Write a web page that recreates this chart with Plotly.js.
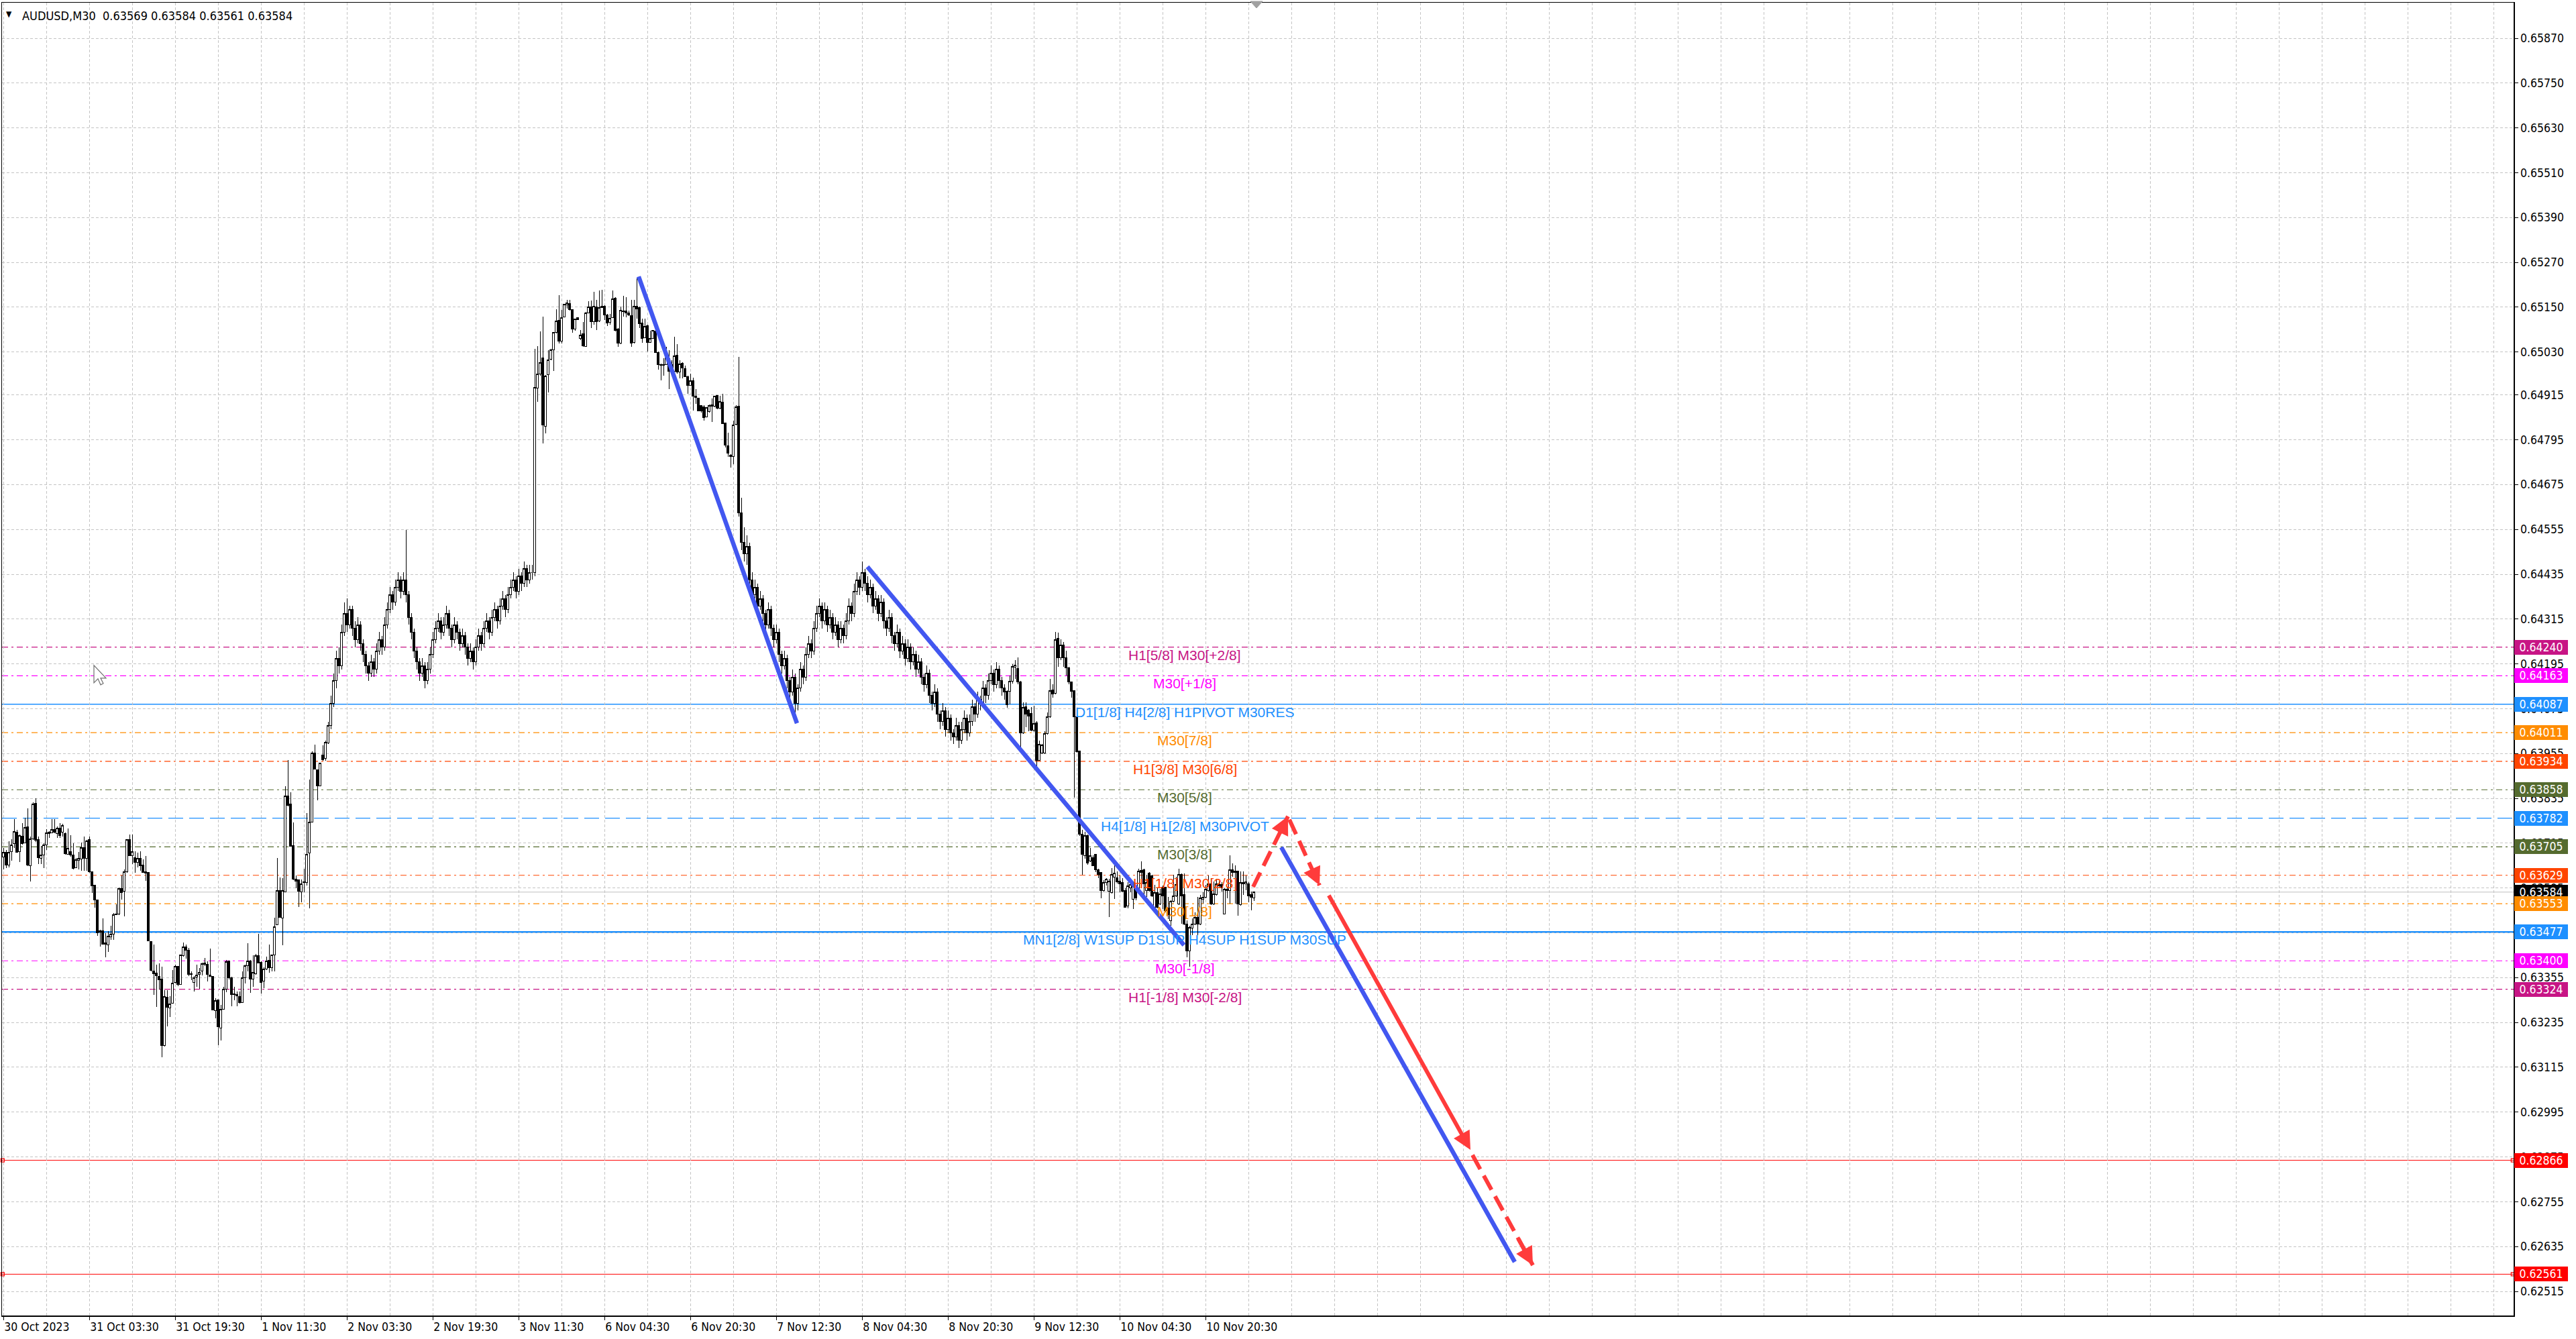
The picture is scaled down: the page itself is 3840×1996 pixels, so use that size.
<!DOCTYPE html>
<html><head><meta charset="utf-8">
<script src="https://cdn.plot.ly/plotly-3.0.1.min.js"></script>
<style>html,body{margin:0;padding:0;background:#fff}#chart{width:3840px;height:1996px}#chart .boxlayer path{shape-rendering:crispEdges}</style>
</head><body><div id="chart"></div>
<script>
const symbolName = 'AUDUSD,M30';
const openP = [0.63678,0.63691,0.63657,0.63693,0.63714,0.63745,0.63693,0.63734,0.63715,0.63758,
0.63655,0.63726,0.63821,0.63724,0.63675,0.63684,0.63711,0.63741,0.63743,0.63751,
0.63741,0.63756,0.63744,0.63740,0.63685,0.63693,0.63683,0.63649,0.63669,0.63673,
0.63704,0.63675,0.63724,0.63638,0.63602,0.63563,0.63480,0.63480,0.63448,0.63443,
0.63465,0.63472,0.63524,0.63525,0.63593,0.63587,0.63638,0.63725,0.63681,0.63676,
0.63663,0.63675,0.63656,0.63635,0.63637,0.63452,0.63373,0.63367,0.63359,0.63351,
0.63174,0.63302,0.63273,0.63286,0.63342,0.63385,0.63336,0.63414,0.63437,0.63429,
0.63366,0.63343,0.63357,0.63363,0.63372,0.63394,0.63391,0.63361,0.63359,0.63267,
0.63295,0.63220,0.63270,0.63325,0.63399,0.63355,0.63312,0.63309,0.63305,0.63289,
0.63354,0.63387,0.63399,0.63351,0.63366,0.63414,0.63396,0.63345,0.63378,0.63402,
0.63381,0.63415,0.63497,0.63588,0.63515,0.63585,0.63842,0.63819,0.63709,0.63618,
0.63617,0.63585,0.63609,0.63609,0.63689,0.63771,0.63956,0.63912,0.63869,0.63951,
0.63942,0.63984,0.64030,0.64090,0.64150,0.64210,0.64190,0.64280,0.64330,0.64300,
0.64340,0.64290,0.64260,0.64300,0.64250,0.64220,0.64190,0.64170,0.64200,0.64180,
0.64230,0.64260,0.64240,0.64300,0.64340,0.64380,0.64360,0.64400,0.64420,0.64390,
0.64420,0.64380,0.64320,0.64280,0.64230,0.64200,0.64170,0.64190,0.64150,0.64180,
0.64220,0.64260,0.64290,0.64310,0.64280,0.64300,0.64330,0.64290,0.64260,0.64300,
0.64280,0.64250,0.64270,0.64240,0.64210,0.64230,0.64200,0.64240,0.64270,0.64250,
0.64290,0.64310,0.64280,0.64320,0.64340,0.64310,0.64350,0.64370,0.64340,0.64380,
0.64400,0.64420,0.64390,0.64430,0.64410,0.64450,0.64420,0.64440,0.64440,0.64933,
0.64972,0.65014,0.64831,0.64969,0.65010,0.65035,0.65083,0.65115,0.65059,0.65123,
0.65157,0.65160,0.65143,0.65091,0.65122,0.65066,0.65079,0.65044,0.65134,0.65151,
0.65111,0.65151,0.65113,0.65149,0.65153,0.65129,0.65109,0.65122,0.65174,0.65092,
0.65053,0.65140,0.65140,0.65135,0.65128,0.65055,0.65152,0.65149,0.65108,0.65068,
0.65101,0.65056,0.65067,0.65086,0.65029,0.64997,0.64996,0.64997,0.65013,0.64996,
0.64978,0.65021,0.64976,0.65000,0.64985,0.64964,0.64941,0.64953,0.64911,0.64906,
0.64886,0.64884,0.64857,0.64870,0.64888,0.64885,0.64913,0.64879,0.64895,0.64840,
0.64779,0.64753,0.64750,0.64836,0.64885,0.64600,0.64520,0.64490,0.64510,0.64420,
0.64380,0.64400,0.64350,0.64370,0.64330,0.64300,0.64340,0.64290,0.64260,0.64280,
0.64220,0.64190,0.64210,0.64150,0.64120,0.64160,0.64090,0.64130,0.64180,0.64160,
0.64220,0.64250,0.64230,0.64290,0.64330,0.64350,0.64310,0.64340,0.64300,0.64320,
0.64280,0.64300,0.64260,0.64290,0.64270,0.64310,0.64350,0.64330,0.64390,0.64420,
0.64400,0.64440,0.64410,0.64380,0.64400,0.64350,0.64370,0.64330,0.64360,0.64310,
0.64290,0.64320,0.64270,0.64250,0.64280,0.64230,0.64250,0.64210,0.64240,0.64200,
0.64220,0.64180,0.64200,0.64160,0.64140,0.64170,0.64110,0.64090,0.64120,0.64060,
0.64040,0.64070,0.64020,0.64050,0.64010,0.64000,0.64030,0.63990,0.64020,0.64050,
0.64010,0.64040,0.64080,0.64060,0.64100,0.64090,0.64130,0.64110,0.64150,0.64170,
0.64140,0.64180,0.64150,0.64130,0.64122,0.64122,0.64149,0.64187,0.64182,0.64147,
0.64011,0.64080,0.64071,0.64062,0.64017,0.64038,0.63936,0.63957,0.63957,0.64008,
0.64053,0.64125,0.64116,0.64263,0.64212,0.64245,0.64212,0.64185,0.64146,0.64123,
0.64053,0.63961,0.63739,0.63682,0.63736,0.63667,0.63676,0.63685,0.63643,0.63637,
0.63589,0.63610,0.63586,0.63583,0.63625,0.63622,0.63613,0.63610,0.63589,0.63547,
0.63595,0.63565,0.63601,0.63586,0.63642,0.63643,0.63589,0.63634,0.63628,0.63544,
0.63583,0.63553,0.63598,0.63598,0.63541,0.63508,0.63559,0.63574,0.63553,0.63631,
0.63577,0.63499,0.63427,0.63487,0.63499,0.63517,0.63499,0.63564,0.63571,0.63589,
0.63607,0.63553,0.63577,0.63607,0.63604,0.63526,0.63589,0.63589,0.63644,0.63637,
0.63640,0.63550,0.63610,0.63607,0.63607,0.63577,0.63569];
const highP = [0.63702,0.63696,0.63720,0.63726,0.63780,0.63750,0.63738,0.63769,0.63783,0.63809,
0.63732,0.63825,0.63835,0.63732,0.63708,0.63714,0.63753,0.63747,0.63780,0.63780,
0.63759,0.63768,0.63767,0.63744,0.63754,0.63737,0.63715,0.63675,0.63691,0.63717,
0.63732,0.63723,0.63732,0.63639,0.63603,0.63564,0.63483,0.63513,0.63474,0.63479,
0.63493,0.63528,0.63552,0.63597,0.63629,0.63645,0.63726,0.63738,0.63738,0.63693,
0.63690,0.63693,0.63672,0.63681,0.63638,0.63453,0.63444,0.63390,0.63393,0.63385,
0.63321,0.63321,0.63306,0.63375,0.63390,0.63387,0.63417,0.63449,0.63444,0.63435,
0.63372,0.63360,0.63390,0.63381,0.63396,0.63408,0.63399,0.63432,0.63360,0.63300,
0.63297,0.63282,0.63331,0.63403,0.63400,0.63357,0.63331,0.63318,0.63318,0.63372,
0.63390,0.63447,0.63402,0.63414,0.63418,0.63473,0.63399,0.63383,0.63411,0.63444,
0.63417,0.63516,0.63675,0.63624,0.63621,0.63867,0.63938,0.63852,0.63771,0.63629,
0.63618,0.63618,0.63647,0.63796,0.63886,0.63960,0.63978,0.63913,0.63930,0.63977,
0.63990,0.64040,0.64110,0.64170,0.64230,0.64240,0.64300,0.64360,0.64370,0.64350,
0.64350,0.64310,0.64320,0.64310,0.64260,0.64230,0.64200,0.64220,0.64210,0.64250,
0.64280,0.64270,0.64320,0.64360,0.64400,0.64390,0.64420,0.64440,0.64430,0.64440,
0.64554,0.64390,0.64330,0.64290,0.64240,0.64210,0.64210,0.64200,0.64200,0.64240,
0.64280,0.64310,0.64330,0.64320,0.64320,0.64350,0.64340,0.64300,0.64320,0.64310,
0.64290,0.64290,0.64280,0.64250,0.64250,0.64240,0.64260,0.64290,0.64280,0.64310,
0.64330,0.64320,0.64340,0.64360,0.64350,0.64370,0.64390,0.64380,0.64400,0.64420,
0.64440,0.64430,0.64450,0.64440,0.64470,0.64460,0.64460,0.64460,0.65039,0.65045,
0.65086,0.65125,0.64969,0.65035,0.65038,0.65083,0.65144,0.65182,0.65143,0.65159,
0.65170,0.65170,0.65143,0.65119,0.65123,0.65089,0.65110,0.65137,0.65166,0.65167,
0.65191,0.65170,0.65195,0.65197,0.65155,0.65131,0.65131,0.65194,0.65176,0.65095,
0.65152,0.65181,0.65176,0.65140,0.65170,0.65170,0.65227,0.65152,0.65119,0.65119,
0.65104,0.65087,0.65089,0.65087,0.65032,0.64999,0.65013,0.65044,0.65035,0.65008,
0.65071,0.65051,0.65008,0.65002,0.64993,0.64967,0.64972,0.64961,0.64930,0.64908,
0.64888,0.64888,0.64883,0.64889,0.64906,0.64913,0.64915,0.64912,0.64918,0.64841,
0.64814,0.64756,0.64847,0.64888,0.65017,0.64640,0.64560,0.64540,0.64520,0.64440,
0.64420,0.64410,0.64390,0.64380,0.64340,0.64360,0.64350,0.64300,0.64300,0.64290,
0.64230,0.64230,0.64220,0.64160,0.64180,0.64170,0.64140,0.64200,0.64190,0.64240,
0.64270,0.64260,0.64310,0.64350,0.64370,0.64360,0.64360,0.64350,0.64340,0.64330,
0.64320,0.64310,0.64310,0.64300,0.64330,0.64370,0.64360,0.64410,0.64440,0.64430,
0.64470,0.64450,0.64430,0.64420,0.64410,0.64390,0.64380,0.64380,0.64370,0.64320,
0.64340,0.64330,0.64280,0.64300,0.64290,0.64270,0.64260,0.64260,0.64250,0.64240,
0.64230,0.64220,0.64210,0.64170,0.64190,0.64180,0.64120,0.64140,0.64130,0.64070,
0.64090,0.64080,0.64070,0.64060,0.64020,0.64050,0.64040,0.64040,0.64070,0.64060,
0.64060,0.64100,0.64090,0.64120,0.64110,0.64150,0.64140,0.64170,0.64190,0.64180,
0.64200,0.64190,0.64160,0.64140,0.64125,0.64164,0.64194,0.64206,0.64212,0.64149,
0.64092,0.64092,0.64074,0.64080,0.64083,0.64041,0.63990,0.63981,0.64014,0.64065,
0.64155,0.64140,0.64281,0.64278,0.64260,0.64254,0.64231,0.64188,0.64147,0.64125,
0.64059,0.63962,0.63751,0.63745,0.63739,0.63703,0.63682,0.63685,0.63646,0.63638,
0.63616,0.63622,0.63619,0.63649,0.63655,0.63640,0.63628,0.63622,0.63595,0.63610,
0.63616,0.63613,0.63601,0.63646,0.63667,0.63646,0.63631,0.63637,0.63631,0.63604,
0.63595,0.63592,0.63601,0.63598,0.63571,0.63562,0.63631,0.63625,0.63646,0.63634,
0.63634,0.63508,0.63493,0.63514,0.63529,0.63571,0.63577,0.63583,0.63604,0.63628,
0.63622,0.63613,0.63619,0.63613,0.63610,0.63595,0.63598,0.63682,0.63661,0.63655,
0.63642,0.63640,0.63640,0.63628,0.63610,0.63586,0.63584];
const lowP = [0.63645,0.63648,0.63651,0.63669,0.63702,0.63690,0.63664,0.63711,0.63714,0.63654,
0.63612,0.63723,0.63719,0.63660,0.63659,0.63648,0.63696,0.63729,0.63743,0.63741,
0.63729,0.63729,0.63732,0.63684,0.63684,0.63678,0.63645,0.63648,0.63645,0.63642,
0.63642,0.63642,0.63636,0.63582,0.63543,0.63467,0.63438,0.63444,0.63410,0.63423,
0.63456,0.63456,0.63522,0.63522,0.63564,0.63519,0.63636,0.63680,0.63660,0.63636,
0.63651,0.63642,0.63636,0.63615,0.63452,0.63372,0.63309,0.63276,0.63324,0.63141,
0.63171,0.63225,0.63249,0.63285,0.63339,0.63333,0.63335,0.63411,0.63405,0.63360,
0.63348,0.63318,0.63330,0.63325,0.63361,0.63387,0.63345,0.63357,0.63267,0.63246,
0.63175,0.63187,0.63269,0.63316,0.63351,0.63279,0.63294,0.63279,0.63285,0.63288,
0.63339,0.63372,0.63315,0.63330,0.63363,0.63393,0.63313,0.63327,0.63375,0.63369,
0.63372,0.63372,0.63495,0.63515,0.63441,0.63583,0.63813,0.63705,0.63616,0.63594,
0.63545,0.63557,0.63583,0.63602,0.63540,0.63770,0.63912,0.63829,0.63867,0.63936,
0.63936,0.63980,0.64020,0.64080,0.64130,0.64170,0.64180,0.64270,0.64280,0.64290,
0.64270,0.64240,0.64250,0.64230,0.64200,0.64170,0.64150,0.64160,0.64160,0.64170,
0.64220,0.64220,0.64230,0.64290,0.64330,0.64340,0.64350,0.64390,0.64370,0.64380,
0.64360,0.64300,0.64260,0.64210,0.64180,0.64150,0.64160,0.64130,0.64140,0.64170,
0.64210,0.64250,0.64280,0.64260,0.64270,0.64290,0.64270,0.64240,0.64250,0.64260,
0.64230,0.64240,0.64220,0.64190,0.64200,0.64180,0.64190,0.64230,0.64230,0.64240,
0.64280,0.64260,0.64270,0.64310,0.64290,0.64300,0.64340,0.64320,0.64330,0.64370,
0.64390,0.64370,0.64380,0.64390,0.64400,0.64400,0.64410,0.64420,0.64430,0.64897,
0.64966,0.64786,0.64813,0.64921,0.65008,0.64979,0.65080,0.65053,0.65053,0.65122,
0.65146,0.65141,0.65082,0.65087,0.65115,0.65062,0.65043,0.65044,0.65133,0.65095,
0.65103,0.65089,0.65110,0.65148,0.65116,0.65099,0.65104,0.65121,0.65086,0.65044,
0.65051,0.65125,0.65123,0.65127,0.65044,0.65053,0.65119,0.65095,0.65055,0.65067,
0.65031,0.65055,0.65066,0.65027,0.64983,0.64954,0.64967,0.64996,0.64930,0.64966,
0.64975,0.64972,0.64959,0.64960,0.64963,0.64918,0.64939,0.64873,0.64891,0.64871,
0.64867,0.64846,0.64855,0.64867,0.64843,0.64883,0.64877,0.64877,0.64838,0.64774,
0.64750,0.64720,0.64730,0.64834,0.64590,0.64500,0.64470,0.64460,0.64400,0.64360,
0.64370,0.64330,0.64340,0.64310,0.64280,0.64290,0.64270,0.64240,0.64250,0.64200,
0.64170,0.64180,0.64130,0.64100,0.64110,0.64060,0.64070,0.64120,0.64140,0.64150,
0.64210,0.64210,0.64220,0.64280,0.64320,0.64290,0.64300,0.64280,0.64290,0.64260,
0.64270,0.64240,0.64250,0.64250,0.64260,0.64300,0.64310,0.64320,0.64380,0.64380,
0.64390,0.64390,0.64360,0.64370,0.64330,0.64340,0.64310,0.64320,0.64290,0.64270,
0.64280,0.64250,0.64230,0.64240,0.64210,0.64220,0.64190,0.64200,0.64180,0.64190,
0.64160,0.64170,0.64140,0.64120,0.64130,0.64090,0.64070,0.64080,0.64040,0.64020,
0.64030,0.64000,0.64010,0.63990,0.63980,0.63990,0.63970,0.63980,0.64010,0.63990,
0.64000,0.64030,0.64040,0.64050,0.64070,0.64080,0.64090,0.64100,0.64140,0.64120,
0.64130,0.64130,0.64110,0.64100,0.64077,0.64086,0.64143,0.64155,0.64140,0.63957,
0.64008,0.64026,0.64014,0.64014,0.64013,0.63921,0.63935,0.63954,0.63954,0.64005,
0.64050,0.64104,0.64113,0.64188,0.64206,0.64188,0.64164,0.64140,0.64104,0.63837,
0.63957,0.63735,0.63631,0.63673,0.63658,0.63664,0.63654,0.63637,0.63622,0.63568,
0.63586,0.63601,0.63517,0.63580,0.63565,0.63607,0.63583,0.63583,0.63542,0.63541,
0.63583,0.63538,0.63562,0.63583,0.63616,0.63577,0.63571,0.63586,0.63571,0.63541,
0.63541,0.63550,0.63538,0.63529,0.63511,0.63493,0.63556,0.63571,0.63550,0.63499,
0.63496,0.63409,0.63385,0.63469,0.63496,0.63469,0.63496,0.63553,0.63568,0.63586,
0.63550,0.63550,0.63574,0.63595,0.63586,0.63526,0.63568,0.63553,0.63625,0.63553,
0.63520,0.63547,0.63577,0.63589,0.63556,0.63535,0.63561];
const closeP = [0.63691,0.63657,0.63691,0.63711,0.63747,0.63691,0.63735,0.63714,0.63757,0.63657,
0.63727,0.63819,0.63722,0.63677,0.63683,0.63711,0.63742,0.63744,0.63751,0.63744,
0.63756,0.63735,0.63762,0.63687,0.63701,0.63683,0.63648,0.63670,0.63675,0.63703,
0.63675,0.63721,0.63638,0.63600,0.63563,0.63475,0.63477,0.63445,0.63445,0.63466,
0.63472,0.63524,0.63525,0.63594,0.63582,0.63639,0.63725,0.63681,0.63693,0.63663,
0.63675,0.63655,0.63637,0.63639,0.63453,0.63375,0.63365,0.63360,0.63349,0.63173,
0.63305,0.63276,0.63285,0.63340,0.63385,0.63336,0.63415,0.63438,0.63428,0.63364,
0.63363,0.63355,0.63361,0.63369,0.63393,0.63390,0.63363,0.63359,0.63268,0.63294,
0.63223,0.63270,0.63324,0.63398,0.63354,0.63310,0.63309,0.63306,0.63289,0.63355,
0.63387,0.63399,0.63351,0.63369,0.63414,0.63394,0.63343,0.63378,0.63399,0.63381,
0.63415,0.63492,0.63589,0.63516,0.63588,0.63842,0.63816,0.63706,0.63618,0.63614,
0.63586,0.63607,0.63612,0.63686,0.63771,0.63956,0.63913,0.63868,0.63929,0.63939,
0.63985,0.64030,0.64090,0.64150,0.64210,0.64190,0.64280,0.64330,0.64300,0.64340,
0.64290,0.64260,0.64300,0.64250,0.64220,0.64190,0.64170,0.64200,0.64180,0.64230,
0.64260,0.64240,0.64300,0.64340,0.64380,0.64360,0.64400,0.64420,0.64390,0.64420,
0.64380,0.64320,0.64280,0.64230,0.64200,0.64170,0.64190,0.64150,0.64180,0.64220,
0.64260,0.64290,0.64310,0.64280,0.64300,0.64330,0.64290,0.64260,0.64300,0.64280,
0.64250,0.64270,0.64240,0.64210,0.64230,0.64200,0.64240,0.64270,0.64250,0.64290,
0.64310,0.64280,0.64320,0.64340,0.64310,0.64350,0.64370,0.64340,0.64380,0.64400,
0.64420,0.64390,0.64430,0.64410,0.64450,0.64420,0.64440,0.64440,0.64935,0.64971,
0.65002,0.64834,0.64966,0.65009,0.65035,0.65083,0.65113,0.65059,0.65122,0.65158,
0.65162,0.65143,0.65091,0.65118,0.65116,0.65075,0.65046,0.65134,0.65151,0.65111,
0.65153,0.65111,0.65149,0.65152,0.65129,0.65107,0.65120,0.65173,0.65087,0.65053,
0.65141,0.65138,0.65134,0.65129,0.65053,0.65152,0.65146,0.65105,0.65066,0.65099,
0.65056,0.65067,0.65088,0.65028,0.64997,0.64995,0.64994,0.65014,0.64979,0.64978,
0.65020,0.64976,0.64998,0.64987,0.64964,0.64940,0.64954,0.64911,0.64908,0.64873,
0.64873,0.64855,0.64882,0.64887,0.64885,0.64911,0.64879,0.64897,0.64839,0.64780,
0.64759,0.64750,0.64835,0.64884,0.64600,0.64520,0.64490,0.64510,0.64420,0.64380,
0.64400,0.64350,0.64370,0.64330,0.64300,0.64340,0.64290,0.64260,0.64280,0.64220,
0.64190,0.64210,0.64150,0.64120,0.64160,0.64090,0.64130,0.64180,0.64160,0.64220,
0.64250,0.64230,0.64290,0.64330,0.64350,0.64310,0.64340,0.64300,0.64320,0.64280,
0.64300,0.64260,0.64290,0.64270,0.64310,0.64350,0.64330,0.64390,0.64420,0.64400,
0.64440,0.64410,0.64380,0.64400,0.64350,0.64370,0.64330,0.64360,0.64310,0.64290,
0.64320,0.64270,0.64250,0.64280,0.64230,0.64250,0.64210,0.64240,0.64200,0.64220,
0.64180,0.64200,0.64160,0.64140,0.64170,0.64110,0.64090,0.64120,0.64060,0.64040,
0.64070,0.64020,0.64050,0.64010,0.64000,0.64030,0.63990,0.64020,0.64050,0.64010,
0.64040,0.64080,0.64060,0.64100,0.64090,0.64130,0.64110,0.64150,0.64170,0.64140,
0.64180,0.64150,0.64130,0.64120,0.64086,0.64149,0.64188,0.64191,0.64146,0.64011,
0.64079,0.64061,0.64056,0.64017,0.64035,0.63936,0.63979,0.63978,0.64008,0.64053,
0.64123,0.64115,0.64260,0.64212,0.64245,0.64212,0.64185,0.64146,0.64122,0.64053,
0.63960,0.63739,0.63685,0.63736,0.63661,0.63682,0.63655,0.63643,0.63631,0.63589,
0.63610,0.63619,0.63613,0.63631,0.63634,0.63611,0.63607,0.63586,0.63544,0.63601,
0.63604,0.63601,0.63568,0.63640,0.63637,0.63607,0.63610,0.63589,0.63574,0.63583,
0.63544,0.63580,0.63574,0.63535,0.63523,0.63559,0.63574,0.63604,0.63631,0.63574,
0.63499,0.63427,0.63490,0.63499,0.63517,0.63499,0.63568,0.63571,0.63592,0.63607,
0.63553,0.63580,0.63607,0.63601,0.63595,0.63592,0.63592,0.63643,0.63637,0.63640,
0.63553,0.63610,0.63607,0.63611,0.63574,0.63571,0.63584];

const timeTickBars = [0,32,64,96,128,160,192,224,256,288,320,352,384,416,448];
const timeTickLabels = ['30 Oct 2023','31 Oct 03:30','31 Oct 19:30','1 Nov 11:30','2 Nov 03:30','2 Nov 19:30','3 Nov 11:30','6 Nov 04:30','6 Nov 20:30','7 Nov 12:30','8 Nov 04:30','8 Nov 20:30','9 Nov 12:30','10 Nov 04:30','10 Nov 20:30'];
const priceTicks = [0.65870,0.65750,0.65630,0.65510,0.65390,0.65270,0.65150,0.65030,0.64915,0.64795,0.64675,0.64555,0.64435,0.64315,0.64195,0.64075,0.63955,0.63835,0.63715,0.63595,0.63475,0.63355,0.63235,0.63115,0.62995,0.62875,0.62755,0.62635,0.62515];

const levelPrices = [0.64240,0.64163,0.64087,0.64011,0.63934,0.63858,0.63782,0.63705,0.63629,0.63553,0.63477,0.63400,0.63324];
const levelNames = ['H1[5/8] M30[+2/8]','M30[+1/8]','D1[1/8] H4[2/8] H1PIVOT M30RES','M30[7/8]','H1[3/8] M30[6/8]','M30[5/8]','H4[1/8] H1[2/8] M30PIVOT','M30[3/8]','H1[1/8] M30[2/8]','M30[1/8]','MN1[2/8] W1SUP D1SUP H4SUP H1SUP M30SUP','M30[-1/8]','H1[-1/8] M30[-2/8]'];
const currentPrice = 0.63584;
const targetPrices = [0.62866, 0.62561];

const trendBars = [[236.75,295.75],[322,440],[476.25,563.25]];
const trendPrices = [[0.65232,0.64036],[0.64455,0.63442],[0.63704,0.62594]];
const forecastBars = [[465.75,478.75],[479.25,490.5],[493.75,546.75],[547.5,570]];
const forecastPrices = [[0.63598,0.63787],[0.63778,0.63602],[0.63578,0.62894],[0.62880,0.62585]];
const cursorBar = 33.75, cursorPrice = 0.64191;

// styles
const levelColors = ['#C71585','#FF00FF','#1E90FF','#FF8C00','#FF4500','#556B2F','#1E90FF','#556B2F','#FF4500','#FF8C00','#1E90FF','#FF00FF','#C71585'];
const DASHDOT = '9px,5px,3px,5px';
const levelDash = [DASHDOT,DASHDOT,'solid',DASHDOT,DASHDOT,DASHDOT,'22px,9px',DASHDOT,DASHDOT,DASHDOT,'solid',DASHDOT,DASHDOT];
const levelWidth = [1.2,1.2,1.3,1.2,1.2,1.2,1.4,1.2,1.2,1.2,2.6,1.2,1.2];
const forecastDashed = [true,true,false,true];
const BLUE = '#4257F0', RED = '#FF3B3B';
const AXFONT = 'DejaVu Sans Condensed, Liberation Sans, Arial, sans-serif';
const TXTFONT = 'Liberation Sans, Arial, sans-serif';
const labelBar = 440.25;

const bars = openP.map((_, i) => i);
const last = openP.length - 1;

const traces = [{
  type: 'candlestick', x: bars, open: openP, high: highP, low: lowP, close: closeP,
  increasing: {line: {color: '#000000', width: 1}, fillcolor: '#FFFFFF'},
  decreasing: {line: {color: '#000000', width: 1}, fillcolor: '#000000'},
  whiskerwidth: 0, hoverinfo: 'skip', showlegend: false
}, {
  type: 'scatter', mode: 'markers', x: [-0.3, -0.3, 935.2, 935.2], y: [targetPrices[0], targetPrices[1], targetPrices[0], targetPrices[1]],
  marker: {symbol: 'square-open', size: 5, color: '#FF0000', line: {width: 1.2, color: '#FF0000'}},
  cliponaxis: false, hoverinfo: 'skip', showlegend: false
}];

const shapes = [];
const annotations = [];

// level lines
levelPrices.forEach((p, i) => {
  shapes.push({type: 'line', xref: 'paper', x0: 0, x1: 1, yref: 'y', y0: p, y1: p, layer: 'between',
    line: {color: levelColors[i], width: levelWidth[i], dash: levelDash[i]}});
  annotations.push({x: labelBar, y: p, xref: 'x', yref: 'y', text: levelNames[i], showarrow: false,
    xanchor: 'center', yanchor: 'top', yshift: 2, font: {family: TXTFONT, size: 21, color: levelColors[i]}});
});
shapes.push({type: 'line', xref: 'paper', x0: 0, x1: 1, yref: 'y', y0: currentPrice, y1: currentPrice, layer: 'between',
  line: {color: '#C0C0C0', width: 1}});
targetPrices.forEach(p => shapes.push({type: 'line', xref: 'paper', x0: 0, x1: 1, yref: 'y', y0: p, y1: p, layer: 'between',
  line: {color: '#FF0000', width: 1}}));

// trend lines
trendBars.forEach((b, i) => shapes.push({type: 'line', xref: 'x', yref: 'y', x0: b[0], x1: b[1], y0: trendPrices[i][0], y1: trendPrices[i][1],
  layer: 'above', line: {color: BLUE, width: 6.5}}));

// forecast arrows
forecastBars.forEach((b, i) => {
  const [x0, x1] = b, [y0, y1] = forecastPrices[i];
  if (forecastDashed[i]) {
    shapes.push({type: 'line', xref: 'x', yref: 'y', x0: x0, x1: x1, y0: y0, y1: y1, layer: 'above',
      line: {color: RED, width: 6, dash: '24px,11px'}});
    annotations.push({x: x1, y: y1, ax: x1 - (x1 - x0) * 0.25, ay: y1 - (y1 - y0) * 0.25, xref: 'x', yref: 'y', axref: 'x', ayref: 'y',
      text: '', showarrow: true, arrowhead: 2, arrowsize: 0.9, arrowwidth: 6, arrowcolor: RED, standoff: 0});
  } else {
    annotations.push({x: x1, y: y1, ax: x0, ay: y0, xref: 'x', yref: 'y', axref: 'x', ayref: 'y',
      text: '', showarrow: true, arrowhead: 2, arrowsize: 0.9, arrowwidth: 6, arrowcolor: RED, standoff: 0});
  }
});

// mouse pointer left on the chart
shapes.push({type: 'path', xref: 'x', yref: 'y', xsizemode: 'pixel', ysizemode: 'pixel', xanchor: cursorBar, yanchor: cursorPrice, layer: 'above',
  path: 'M0,0 L0,-26 L6,-20 L10,-29 L14,-27 L10,-19 L18,-19 Z', fillcolor: '#FFFFFF', line: {color: '#707070', width: 1.2}});

// chart-shift marker at the top border
shapes.push({type: 'path', xref: 'x', yref: 'paper', xsizemode: 'pixel', ysizemode: 'pixel', xanchor: last + 1, yanchor: 1, layer: 'above',
  path: 'M-9,2 L9,2 L0,-8 Z', fillcolor: '#A0A0A0', line: {color: '#A0A0A0', width: 1}});

// right axis price boxes
const boxPrices = [levelPrices[0],levelPrices[1],levelPrices[2],levelPrices[3],levelPrices[4],levelPrices[5],levelPrices[6],levelPrices[7],levelPrices[8],currentPrice,levelPrices[9],levelPrices[10],levelPrices[11],levelPrices[12],targetPrices[0],targetPrices[1]];
const boxColors = [levelColors[0],levelColors[1],levelColors[2],levelColors[3],levelColors[4],levelColors[5],levelColors[6],levelColors[7],levelColors[8],'#000000',levelColors[9],levelColors[10],levelColors[11],levelColors[12],'#FF0000','#FF0000'];
boxPrices.forEach((p, i) => annotations.push({xref: 'paper', x: 1, xanchor: 'left', xshift: 1, yref: 'y', y: p, yanchor: 'middle',
  text: p.toFixed(5), showarrow: false, bgcolor: boxColors[i], width: 80, height: 22, borderpad: 0, borderwidth: 0,
  font: {family: AXFONT, size: 17.5, color: '#FFFFFF'}}));

// header text
annotations.push({xref: 'paper', yref: 'paper', x: 0, y: 1, xanchor: 'left', yanchor: 'middle', xshift: 4, yshift: -17,
  text: '\u25BC', showarrow: false, font: {family: AXFONT, size: 12, color: '#000000'}});
annotations.push({xref: 'paper', yref: 'paper', x: 0, y: 1, xanchor: 'left', yanchor: 'middle', xshift: 28, yshift: -19,
  text: symbolName + '\u00A0\u00A0' + [openP[last], highP[last], lowP[last], closeP[last]].map(v => v.toFixed(5)).join(' '),
  showarrow: false, font: {family: AXFONT, size: 18, color: '#000000'}});

const layout = {
  width: 3840, height: 1996,
  margin: {l: 3, r: 93, t: 4, b: 35, pad: 0},
  paper_bgcolor: '#FFFFFF', plot_bgcolor: '#FFFFFF',
  showlegend: false, hovermode: false, dragmode: false,
  boxgap: 0.2, boxgroupgap: 0.2,
  xaxis: {
    type: 'linear', range: [-0.5, 935.5], fixedrange: true,
    tickmode: 'array', tickvals: timeTickBars, ticktext: timeTickLabels,
    ticks: 'outside', ticklen: 5, tickcolor: '#000000', tickwidth: 1,
    ticklabelposition: 'outside right',
    tickfont: {family: AXFONT, size: 17.5, color: '#000000'},
    showline: true, linecolor: '#000000', linewidth: 1.5, mirror: true,
    showgrid: true, gridcolor: '#C4C4C4', gridwidth: 1, griddash: '4px,3px',
    minor: {tickmode: 'linear', tick0: 0, dtick: 16, showgrid: true, gridcolor: '#C4C4C4', gridwidth: 1, griddash: '4px,3px', ticks: ''},
    zeroline: false, rangeslider: {visible: false}
  },
  yaxis: {
    type: 'linear', range: [0.624504, 0.659652], fixedrange: true, side: 'right',
    tickmode: 'array', tickvals: priceTicks, ticktext: priceTicks.map(v => v.toFixed(5)),
    ticks: 'outside', ticklen: 5, tickcolor: '#000000', tickwidth: 1,
    tickfont: {family: AXFONT, size: 17.5, color: '#000000'},
    showline: true, linecolor: '#000000', linewidth: 1.5, mirror: true,
    showgrid: true, gridcolor: '#C4C4C4', gridwidth: 1, griddash: '4px,3px',
    zeroline: false
  },
  shapes: shapes,
  annotations: annotations
};

Plotly.newPlot('chart', traces, layout, {displayModeBar: false, staticPlot: true});
</script>
</body></html>
